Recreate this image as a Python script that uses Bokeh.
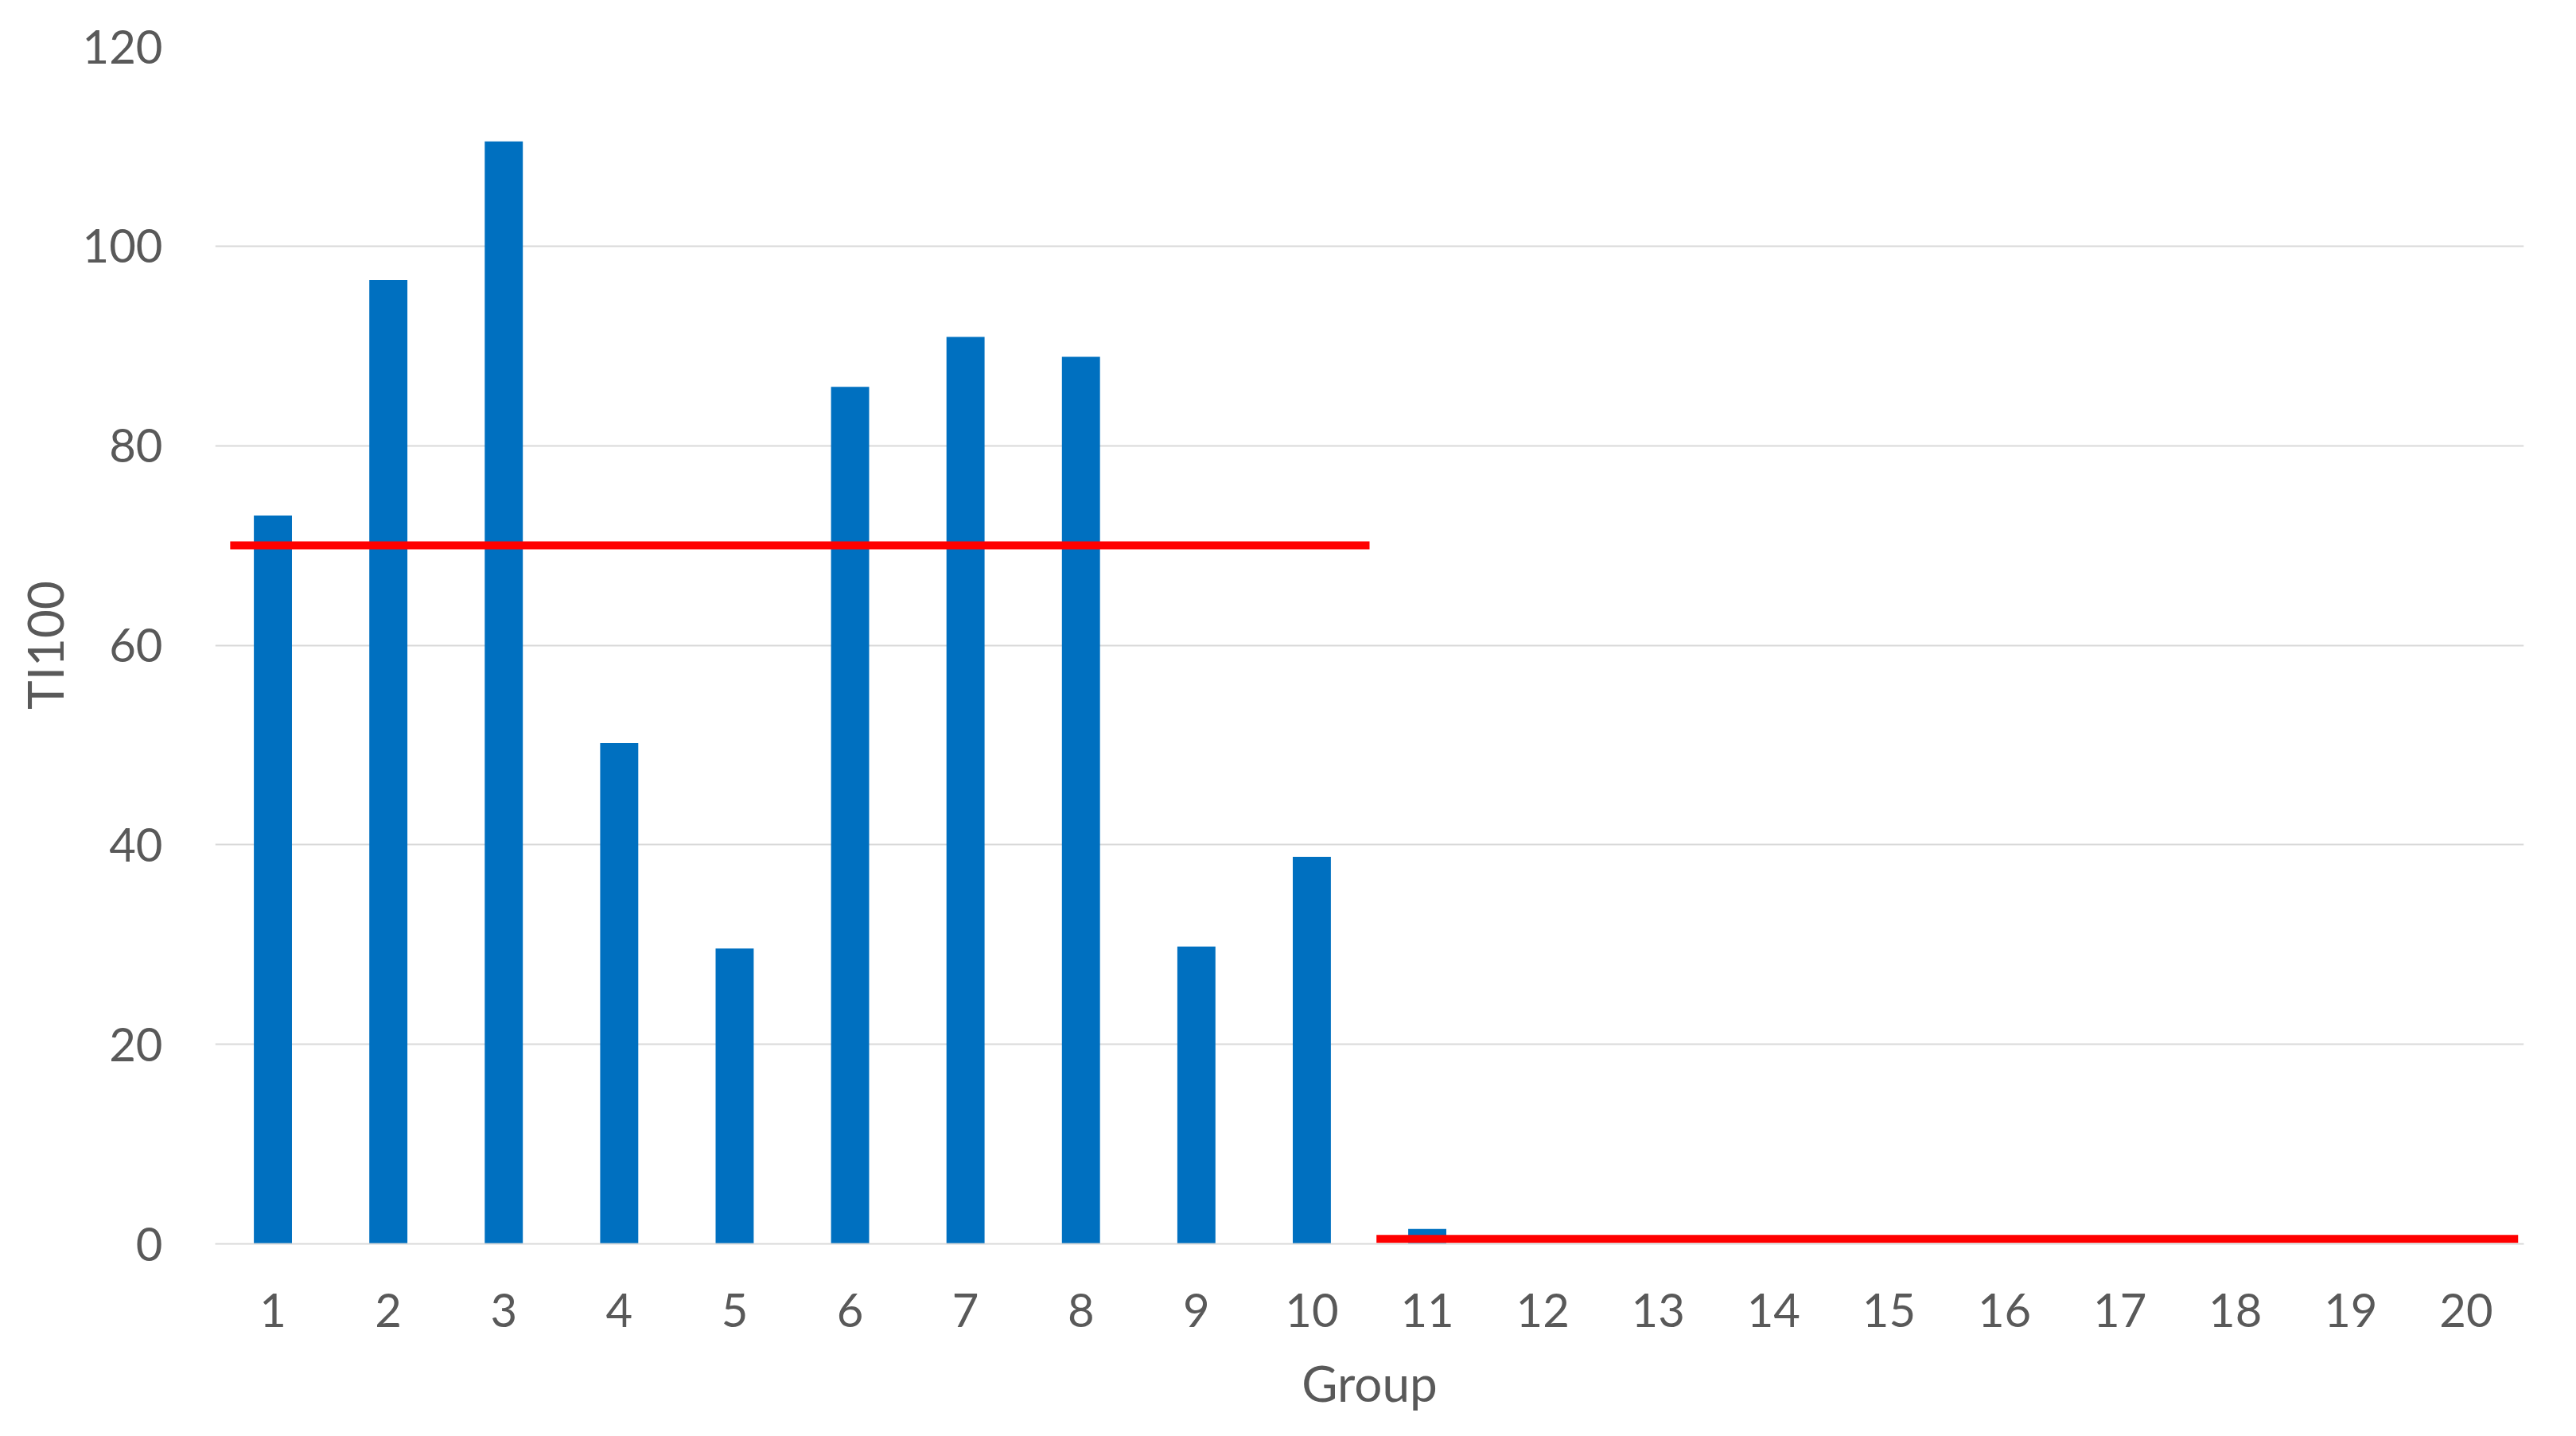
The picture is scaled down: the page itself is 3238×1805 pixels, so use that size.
from bokeh.plotting import figure
from bokeh.models import Range1d, FixedTicker
from bokeh.embed import file_html
from bokeh.resources import INLINE

groups = list(range(1, 21))
ti100 = [73, 96.6, 110.5, 50.2, 29.6, 85.9, 90.9, 88.9, 29.8, 38.8, 1.5, 0, 0, 0, 0, 0, 0, 0, 0, 0]
y_ticks = [0, 20, 40, 60, 80, 100, 120]

# threshold line segments (x start/end, level)
thr1_x = [0.63, 10.5]
thr1_y = [70, 70]
thr2_x = [10.56, 20.45]
thr2_y = [0.5, 0.5]

FONT = "Lato"
TXT = "#595959"

p = figure(width=3222, height=1789, output_backend="svg", toolbar_location=None,
           x_range=Range1d(0.5, 20.5), y_range=Range1d(0, 120),
           min_border_left=270, min_border_right=50, min_border_top=58, min_border_bottom=226)
p.outline_line_color = None
p.background_fill_color = "white"

p.vbar(x=groups, top=ti100, width=0.33, bottom=0, fill_color="#0070C0", line_color=None)
p.line(thr1_x, thr1_y, line_color="#FF0000", line_width=10)
p.line(thr2_x, thr2_y, line_color="#FF0000", line_width=10)

p.xgrid.grid_line_color = None
p.ygrid.grid_line_color = "#D9D9D9"
p.ygrid.grid_line_width = 2
p.ygrid.ticker = FixedTicker(ticks=y_ticks)

p.xaxis.ticker = FixedTicker(ticks=groups)
p.yaxis.ticker = FixedTicker(ticks=y_ticks)
for ax in (p.xaxis, p.yaxis):
    ax.major_tick_line_color = None
    ax.minor_tick_line_color = None
    ax.major_label_text_font = FONT
    ax.major_label_text_font_size = "58px"
    ax.major_label_text_color = TXT
    ax.axis_label_text_font = FONT
    ax.axis_label_text_font_size = "62px"
    ax.axis_label_text_color = TXT
    ax.axis_label_text_font_style = "normal"

p.xaxis.axis_line_color = "#D9D9D9"
p.xaxis.axis_line_width = 2
p.yaxis.axis_line_color = None
p.xaxis.axis_label = "Group"
p.yaxis.axis_label = "TI100"
p.xaxis.major_label_standoff = 56
p.yaxis.major_label_standoff = 60
p.xaxis.axis_label_standoff = 30
p.yaxis.axis_label_standoff = 8

open("out.html", "w").write(file_html(p, INLINE))
